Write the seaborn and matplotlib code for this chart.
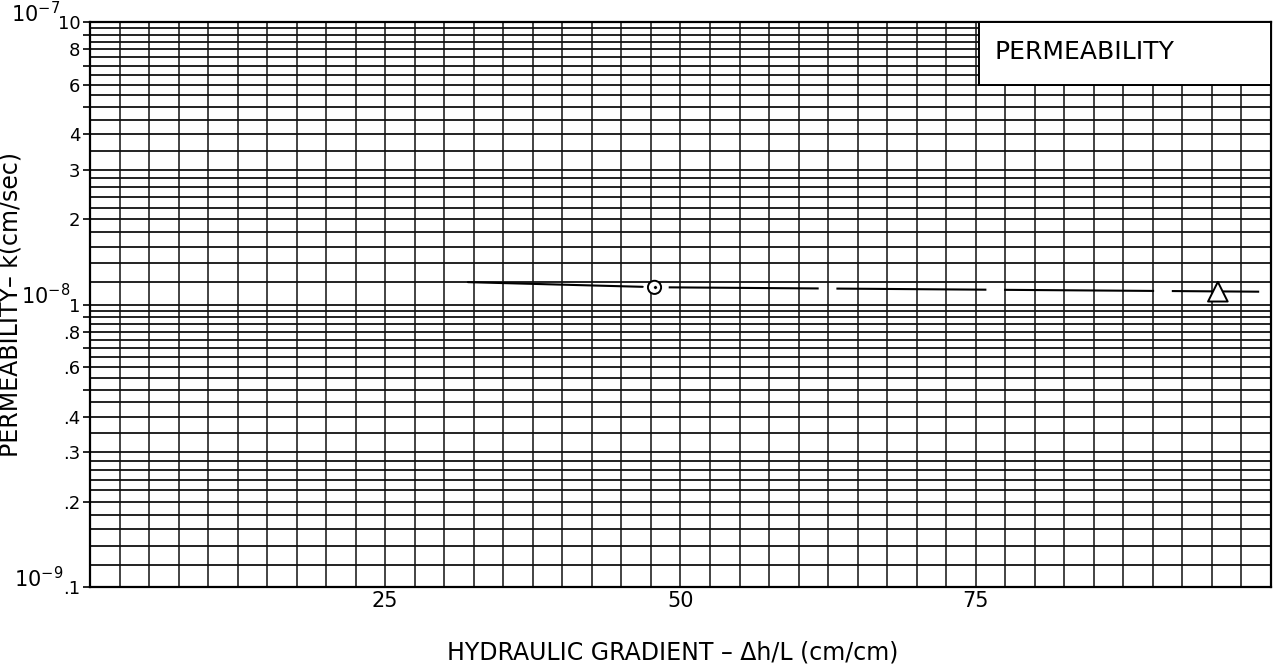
import matplotlib
matplotlib.use("Agg")
import matplotlib.pyplot as plt
import pandas as pd
import seaborn as sns
from matplotlib.patches import Rectangle
from matplotlib.ticker import FixedLocator, MultipleLocator, NullFormatter

# ---- data -------------------------------------------------------------
# fitted permeability trend (solid up to the first test, dashed beyond)
trend_solid_gradient = [32.0, 46.8]
trend_solid_k = [1.20e-8, 1.155e-8]
trend_dash_gradient = [49.0, 99.0]
trend_dash_k = [1.15e-8, 1.11e-8]

# individual test results
test_id = ["test 1", "test 2"]
test_gradient = [47.8, 95.5]
test_k = [1.15e-8, 1.11e-8]

# x axis
x_tick_values = [25, 50, 75]
x_tick_labels = ["25", "50", "75"]

# y axis: tick marks at every integer mantissa, labels only on some
y_tick_values = [1e-9, 2e-9, 3e-9, 4e-9, 5e-9, 6e-9, 7e-9, 8e-9, 9e-9,
                 1e-8, 2e-8, 3e-8, 4e-8, 5e-8, 6e-8, 7e-8, 8e-8, 9e-8, 1e-7]
y_tick_labels = [".1", ".2", ".3", ".4", "", ".6", "", ".8", "",
                 "1", "2", "3", "4", "", "6", "", "8", "", "10"]
decade_values = [1e-7, 1e-8, 1e-9]
decade_labels = ["10$^{-7}$", "10$^{-8}$", "10$^{-9}$"]
# extra ruling between the integer mantissas
grid_mantissas = [1.2, 1.4, 1.6, 1.8, 2.2, 2.4, 2.6, 2.8,
                  3.5, 4.5, 5.5, 6.5, 7.5, 8.5, 9.5]

# ---- figure -------------------------------------------------------------
sns.set_theme(style="white")
plt.rcParams["font.family"] = ["DejaVu Sans"]

fig = plt.figure(figsize=(12.77, 6.64), dpi=100)
ax = fig.add_axes([90 / 1277, 1 - 587 / 664, 1181 / 1277, 565 / 664])
ax.set_yscale("log")
ax.set_xlim(0, 100)
ax.set_ylim(1e-9, 1e-7)

# graph-paper ruling
ax.xaxis.set_major_locator(FixedLocator(x_tick_values))
ax.set_xticklabels(x_tick_labels, fontsize=15)
ax.xaxis.set_minor_locator(MultipleLocator(2.5))
ax.xaxis.set_minor_formatter(NullFormatter())

ax.set_yticks(y_tick_values)
ax.set_yticklabels(y_tick_labels, fontsize=13)
minor_y = [m * d for d in (1e-9, 1e-8) for m in grid_mantissas]
ax.yaxis.set_minor_locator(FixedLocator(minor_y))
ax.yaxis.set_minor_formatter(NullFormatter())

ax.grid(True, which="both", axis="y", color="#111111", lw=1.3)
ax.grid(True, which="both", axis="x", color="#111111", lw=1.1)
ax.set_axisbelow(True)

ax.tick_params(axis="y", which="major", left=True, length=5, width=1.2,
               color="black", pad=2, labelcolor="black")
ax.tick_params(axis="y", which="minor", left=False, length=0)
ax.tick_params(axis="x", which="both", bottom=False, length=0, pad=3,
               labelcolor="black")
for s in ax.spines.values():
    s.set_color("black")
    s.set_linewidth(1.6)

# decade markers to the left of the mantissa scale
decade_x_px = [60, 70, 63]
for val, lab, xp in zip(decade_values, decade_labels, decade_x_px):
    ax.text((xp - 90) / 1181, val, lab, transform=ax.get_yaxis_transform(),
            ha="right", va="baseline", fontsize=15, color="black")

# title box in the upper right
ax.add_patch(Rectangle((75.3, 6e-8), 24.7, 4e-8, facecolor="white",
                       edgecolor="black", lw=1.4, zorder=3))
ax.text(76.6, 7.8e-8, "PERMEABILITY", fontsize=18, ha="left", va="center",
        color="black", zorder=4)

# trend lines
sns.lineplot(x=trend_solid_gradient, y=trend_solid_k, ax=ax, color="black",
             lw=1.5, estimator=None, sort=False, zorder=5)
sns.lineplot(x=trend_dash_gradient, y=trend_dash_k, ax=ax, color="black",
             lw=1.5, estimator=None, sort=False, zorder=5,
             linestyle=(0, (72, 8.5)))

# test points
tests = pd.DataFrame({"test": test_id, "gradient": test_gradient, "k": test_k})
sns.scatterplot(data=tests, x="gradient", y="k", style="test",
                markers={"test 1": "o", "test 2": "^"}, s=[90, 200],
                facecolor="white", edgecolor="black", linewidth=1.4,
                legend=False, ax=ax, zorder=6)
sns.scatterplot(data=tests.iloc[:1], x="gradient", y="k", color="black",
                s=6, legend=False, ax=ax, zorder=7)

ax.set_xlabel("HYDRAULIC GRADIENT – \u0394h/L (cm/cm)", fontsize=17, color="black")
ax.xaxis.set_label_coords(0.493, -0.095)
ax.set_ylabel("PERMEABILITY– k(cm/sec)", fontsize=17, color="black")
ax.yaxis.set_label_coords(-0.057, 0.5)

fig.savefig("out.png", dpi=100, facecolor="white")
